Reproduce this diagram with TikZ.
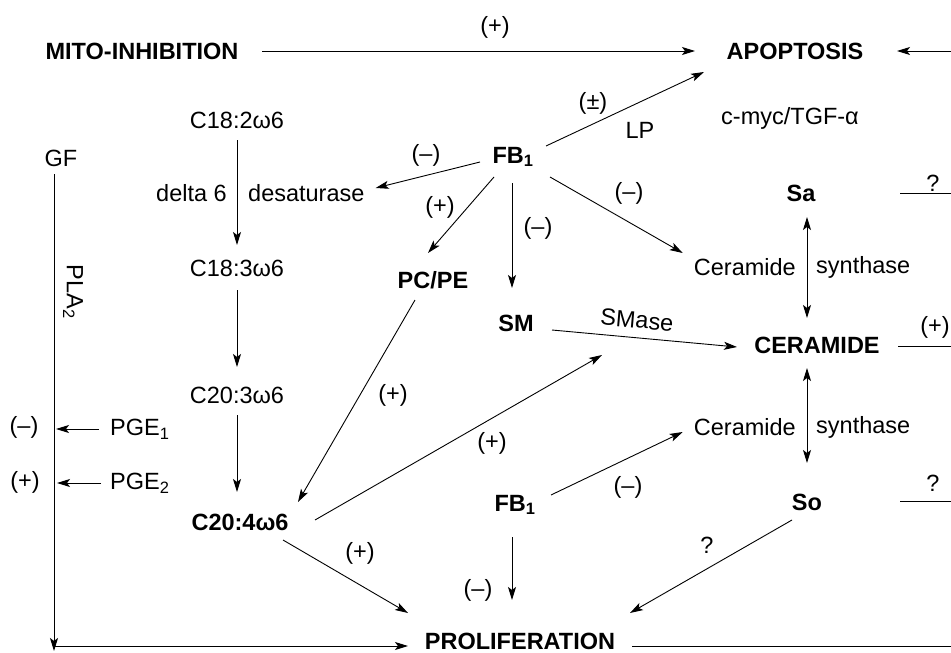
\documentclass[tikz,border=0pt]{standalone}
\usepackage{fontspec}
\setmainfont{Liberation Sans}
\usetikzlibrary{arrows.meta}
\begin{document}
\begin{tikzpicture}[x=1pt,y=-1pt,
  every node/.style={inner sep=0pt,font=\fontsize{23.5}{28}\selectfont},
  bf/.style={font=\fontsize{23.5}{28}\selectfont\bfseries},
  arr/.style={-{Stealth[length=13pt,width=8pt,inset=3pt]},line width=0.9pt},
  darr/.style={{Stealth[length=13pt,width=8pt,inset=3pt]}-{Stealth[length=13pt,width=8pt,inset=3pt]},line width=0.9pt},
  ln/.style={line width=0.9pt}]
\useasboundingbox (0,0) rectangle (951,653);
% nodes
\node[bf] (mito) at (142,51) {MITO-INHIBITION};
\node[bf] (apop) at (795,51) {APOPTOSIS};
\node (c182) at (237,120) {C18:2ω6};
\node (gf) at (61,158) {GF};
\node[bf] (fbA) at (513,157) {FB\textsubscript{1}};
\node (cmyc) at (790,118) {c-myc/TGF-α};
\node (lp) at (640,130) {LP};
\node (lpm) at (593,103) {(±)};
\node[anchor=east] (delta) at (227,193) {delta 6};
\node[anchor=west] (desat) at (248,193) {desaturase};
\node (c183) at (237,268) {C18:3ω6};
\node (c203) at (237,395) {C20:3ω6};
\node[bf] (c204) at (240,522) {C20:4ω6};
\node[anchor=west] (pge1) at (110,429) {PGE\textsubscript{1}};
\node[anchor=west] (pge2) at (110,483) {PGE\textsubscript{2}};
\node[bf] (pcpe) at (433,280) {PC/PE};
\node[bf] (sm) at (516,323) {SM};
\node[bf] (sa) at (801,193) {Sa};
\node[anchor=east] (cerU) at (796,267) {Ceramide};
\node[anchor=west] (cerUs) at (816,267) {synthase};
\node[bf] (ceramide) at (817,345) {CERAMIDE};
\node[anchor=east] (cerL) at (796,427) {Ceramide};
\node[anchor=west] (cerLs) at (816,427) {synthase};
\node[bf] (fbB) at (515,505) {FB\textsubscript{1}};
\node[bf] (so) at (807,502) {So};
\node[bf] (prolif) at (520,641.5) {PROLIFERATION};
\node[rotate=-90] (pla) at (73,292) {PLA\textsubscript{2}};
% labels
\node (l1) at (495,27) {(+)};
\node (l2) at (426,155) {(–)};
\node (l3) at (440,207) {(+)};
\node (l4) at (538,228) {(–)};
\node (l5) at (629,193) {(–)};
\node[rotate=-5] (smase) at (637,320) {SMase};
\node (l6) at (393,395) {(+)};
\node (l7) at (492,443) {(+)};
\node (l8) at (628,487) {(–)};
\node (l9) at (478,590) {(–)};
\node (l10) at (360,553) {(+)};
\node (q1) at (707,545) {?};
\node (l11) at (24,427) {(–)};
\node (l12) at (25,482) {(+)};
\node (q2) at (933,183) {?};
\node (l13) at (935,327) {(+)};
\node (q3) at (933,483) {?};
% coordinates
\coordinate (eA) at (951,51);
\coordinate (eSa) at (951,193);
\coordinate (eCer) at (951,346);
\coordinate (eSo) at (951,501);
\coordinate (eP) at (951,646);
\coordinate (corner) at (54,646);
\coordinate (p1) at (56,429);
\coordinate (p2) at (57,483);
\coordinate (smT) at (602,355);
% connectors
\draw[arr] ([shift={(120,0)}]mito.center) -- ([shift={(-100,0)}]apop.center);
\draw[arr] (eA) -- ([shift={(102,0)}]apop.center);
\draw[arr] ([shift={(33,-11)}]fbA.center) -- ([shift={(-91,21)}]apop.center);
\draw[arr] ([shift={(-33,5)}]fbA.center) -- ([shift={(11,-5)}]desat.east);
\draw[arr] ([shift={(-19,20)}]fbA.center) -- ([shift={(-5,-27)}]pcpe.center);
\draw[arr] ([shift={(-1,26)}]fbA.center) -- ([shift={(-4,-35)}]sm.center);
\draw[arr] ([shift={(37,20)}]fbA.center) -- ([shift={(-11,-14)}]cerU.west);
\draw[arr] ([shift={(0,20)}]c182.center) -- ([shift={(0,-23)}]c183.center);
\draw[arr] ([shift={(0,22)}]c183.center) -- ([shift={(0,-28)}]c203.center);
\draw[arr] ([shift={(0,20)}]c203.center) -- ([shift={(-3,-30)}]c204.center);
\draw[arr] ([shift={(-18,20)}]pcpe.center) -- ([shift={(58,-20)}]c204.center);
\draw[arr] ([shift={(75,-2)}]c204.center) -- (smT);
\draw[arr] ([shift={(43,18)}]c204.center) -- ([shift={(-112,-28.5)}]prolif.center);
\draw[arr] ([shift={(36,7)}]sm.center) -- ([shift={(-80,2)}]ceramide.center);
\draw[darr] ([shift={(6,24)}]sa.center) -- ([shift={(-10,-27)}]ceramide.center);
\draw[darr] ([shift={(-10,23)}]ceramide.center) -- ([shift={(0,-39)}]so.center);
\draw[arr] ([shift={(36,-10)}]fbB.center) -- ([shift={(-11,5)}]cerL.west);
\draw[arr] ([shift={(-3,32)}]fbB.center) -- ([shift={(-8,-41.5)}]prolif.center);
\draw[arr] ([shift={(-15,18)}]so.center) -- ([shift={(110,-28.5)}]prolif.center);
\draw[arr] ([shift={(-7,16)}]gf.center) -- ([yshift=-5]corner);
\draw[arr] (corner) -- ([shift={(-112,4.5)}]prolif.center);
\draw[arr] ([shift={(-11,0)}]pge1.west) -- (p1);
\draw[arr] ([shift={(-9,0)}]pge2.west) -- (p2);
\draw[ln] ([shift={(99,0)}]sa.center) -- (eSa);
\draw[ln] ([shift={(81,1)}]ceramide.center) -- (eCer);
\draw[ln] ([shift={(93,-1)}]so.center) -- (eSo);
\draw[ln] ([shift={(112,4.5)}]prolif.center) -- (eP);
\end{tikzpicture}
\end{document}
